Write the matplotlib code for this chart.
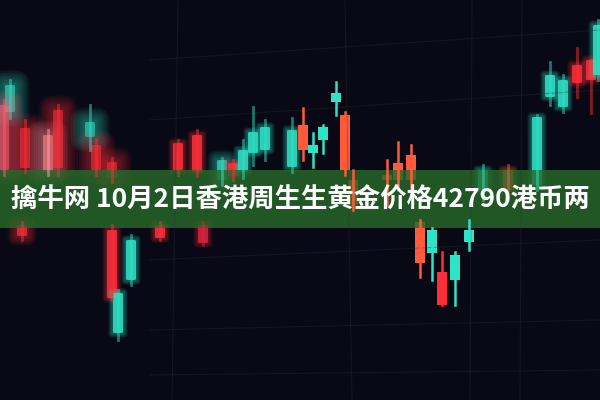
import matplotlib
matplotlib.use("Agg")
import matplotlib.pyplot as plt
from matplotlib.patches import FancyBboxPatch, Rectangle

# candles (pixel-ish price units, axis is flipped)
cx    = [10, 4, 25, 48, 58, 90, 96, 112, 22, 112, 118, 131, 160, 203, 178, 197, 222, 233,
         243, 253, 265, 292, 303, 313, 323, 336, 345, 353, 387, 398, 411, 420, 432, 442,
         455, 469, 483, 508, 537, 550, 563, 577, 591, 598]
top   = [85, 105, 128, 135, 110, 122, 145, 162, 225, 230, 293, 240, 225, 225, 143, 135, 160, 163,
         150, 132, 127, 130, 125, 145, 127, 93, 115, 180, 175, 163, 155, 222, 230, 272,
         255, 230, 170, 170, 117, 75, 80, 65, 60, 25]
bot   = [112, 170, 168, 172, 168, 137, 170, 178, 236, 298, 333, 280, 238, 243, 170, 172, 180, 176,
         172, 153, 150, 167, 150, 153, 140, 102, 170, 205, 180, 180, 180, 263, 253, 305,
         280, 242, 190, 190, 185, 97, 107, 83, 80, 75]
hi    = [80, 100, 120, 130, 105, 105, 140, 158, 222, 225, 290, 235, 222, 222, 140, 130, 158, 160,
         140, 107, 120, 118, 108, 133, 125, 82, 112, 170, 160, 142, 145, 220, 228, 252,
         252, 220, 165, 165, 115, 62, 75, 48, 60, 20]
lo    = [118, 175, 172, 175, 175, 150, 175, 182, 240, 300, 340, 285, 240, 245, 175, 176, 185, 180,
         178, 165, 160, 172, 160, 167, 153, 115, 175, 210, 205, 190, 195, 277, 280, 305,
         305, 250, 200, 200, 190, 105, 112, 97, 113, 80]
kind  = ['t', 'p', 'r', 'l', 'r', 't', 'r', 'r', 'r', 'r', 't', 't', 'r', 'c', 'r', 'r', 't', 'r',
         't', 't', 't', 't', 'o', 't', 't', 't', 'o', 'o', 'o', 'o', 'o', 'o', 't', 'r',
         't', 't', 't', 'o', 't', 't', 't', 'r', 'r', 't']
blur  = [3, 3, 3, 3, 3, 3, 3, 3, 2, 1, 1, 1, 1, 1, 1, 1, 2, 1,
         1, 1, 1, 1, 0, 0, 0, 0, 0, 0, 0, 0, 0, 0, 0, 0,
         0, 0, 1, 1, 1, 1, 1, 1, 1, 1]

colors = {'t': '#2fe3c6', 'r': '#ff2f3a', 'p': '#ff5f73', 'l': '#ffa9ae',
          'o': '#ff5b3a', 'c': '#d9243f'}
core_alpha = {1: 0.85, 2: 0.7, 3: 0.6}

title = "擒牛网 10月2日香港周生生黄金价格42790港币两"

bg = '#080914'
fig = plt.figure(figsize=(6, 4), dpi=100, facecolor=bg)
ax = fig.add_axes([0, 0, 1, 1])
ax.set_facecolor(bg)
ax.set_xlim(0, 600)
ax.set_ylim(400, 0)
ax.axis('off')

# faint perspective grid
for x0, x1 in [(178, 172), (345, 352), (472, 470), (522, 520)]:
    ax.plot([x0, x1], [0, 400], color='#2a2d3a', lw=0.8, alpha=0.35)
for y0, y1 in [(60, 30), (120, 90), (260, 240), (330, 320), (375, 370)]:
    ax.plot([150, 600], [y0, y1], color='#2a2d3a', lw=0.8, alpha=0.35)

for x, t, b, h, l, k, bl in zip(cx, top, bot, hi, lo, kind, blur):
    col = colors[k]
    if bl:
        for i in range(6):
            grow = bl * (i + 1) * 0.8
            ax.add_patch(FancyBboxPatch((x - 5, t), 10, b - t,
                                        boxstyle=f"round,pad={grow:.1f},rounding_size={grow:.1f}",
                                        color=col, alpha=0.08, lw=0))
        ax.plot([x, x], [h, l], color=col, lw=2, alpha=0.5)
        ax.add_patch(FancyBboxPatch((x - 4.5, t + 0.5), 9, b - t - 1,
                                    boxstyle="round,pad=0.5,rounding_size=1.5",
                                    color=col, alpha=core_alpha[bl], lw=0))
    else:
        ax.plot([x, x], [h, l], color=col, lw=1.8)
        ax.add_patch(Rectangle((x - 5, t), 10, b - t, color=col, lw=0))

ax.axhspan(170, 228, color='#27692a', alpha=0.82, lw=0)
ax.text(300, 200, title, ha='center', va='center', color='white', fontsize=19,
        fontweight='bold', family=['Noto Sans CJK SC', 'DejaVu Sans'])

fig.savefig('out.png', dpi=100, facecolor=fig.get_facecolor())
